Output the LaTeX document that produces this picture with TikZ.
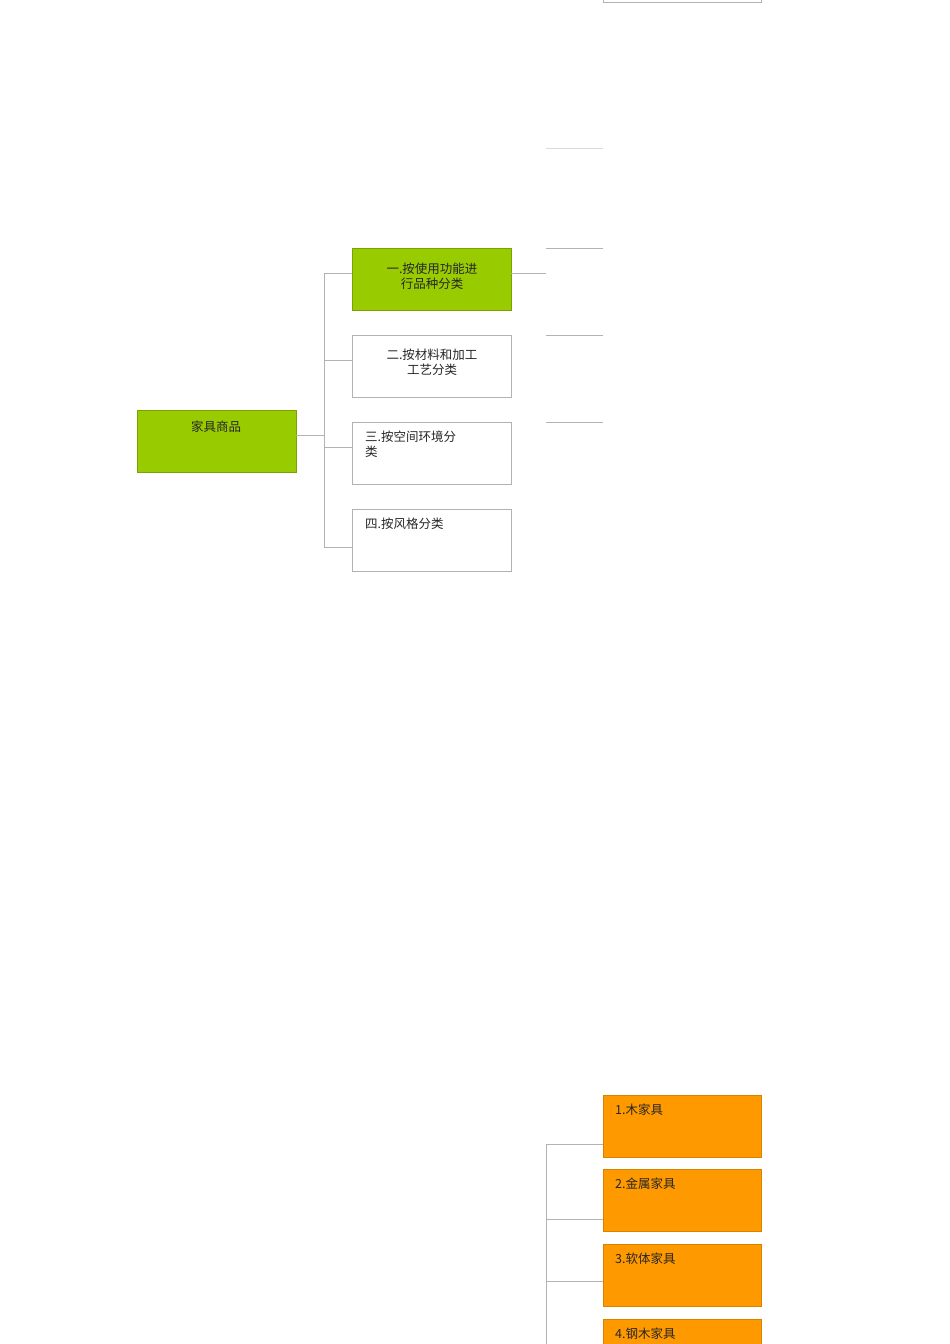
\documentclass[tikz,border=0pt]{standalone}
\usepackage{fontspec}
\newfontfamily\cjk{Noto Sans CJK SC}
\begin{document}
\begin{tikzpicture}[x=1pt,y=-1pt,
  bx/.style={draw=black!30,line width=0.8pt},
  ln/.style={draw=black!30,line width=0.8pt},
  tx/.style={font=\cjk\fontsize{12.5}{15}\selectfont,inner sep=0pt,text=black!85}]
\useasboundingbox[fill=white] (0,0) rectangle (950,1344);
\definecolor{grn}{HTML}{99CC00}
\definecolor{org}{HTML}{FF9900}
% top partial box
\draw[bx] (603,-20) rectangle (761,2);
\node[coordinate] (t0) at (546,148) {}; \node[coordinate] (t0e) at (603,148) {};
\draw[draw=black!15,line width=0.8pt] (t0) -- (t0e);
\foreach \yy/\nm in {248/a,335/b,422/c}{
  \node[coordinate] (s\nm) at (546,\yy) {}; \node[coordinate] (e\nm) at (603,\yy) {};
  \draw[ln] (s\nm) -- (e\nm);}
% root
\draw[bx,fill=grn,draw=grn!80!black] (137,410) rectangle (296,472);
\node[tx] (root) at (216,427) {家具商品};
\coordinate (rootR) at (296,435);
% level 1 boxes
\draw[bx,fill=grn,draw=grn!80!black] (352,248) rectangle (511,310);
\node[tx,align=center] (b1) at (432,276) {一.按使用功能进\\行品种分类};
\draw[bx] (352,335) rectangle (511,397);
\node[tx,align=center] (b2) at (432,362) {二.按材料和加工\\工艺分类};
\draw[bx] (352,422) rectangle (511,484);
\node[tx,align=left,anchor=north west] (b3) at (365,431) {三.按空间环境分\\类};
\draw[bx] (352,509) rectangle (511,571);
\node[tx,anchor=north west] (b4) at (365,518) {四.按风格分类};
\coordinate (j) at (324,435);
\draw[ln] (rootR) -- (j);
\draw[ln] (324,273) -- (324,547);
\foreach \yy in {273,360,447,547} \draw[ln] (324,\yy) -- (352,\yy);
\coordinate (b1R) at (511,273); \coordinate (b1E) at (546,273);
\draw[ln] (b1R) -- (b1E);
% bottom orange boxes
\foreach \yt/\t/\n in {1095/1.木家具/o1,1169/2.金属家具/o2,1244/3.软体家具/o3,1319/4.钢木家具/o4}{
  \draw[fill=org,draw=org!85!black,line width=0.8pt] (603,\yt) rectangle (761,\yt+62);
  \node[tx,anchor=north west] (\n) at (615,\yt+9) {\t};}
\draw[ln] (546,1144) -- (546,1350);
\foreach \yy in {1144,1219,1281} \draw[ln] (546,\yy) -- (603,\yy);
\end{tikzpicture}
\end{document}
